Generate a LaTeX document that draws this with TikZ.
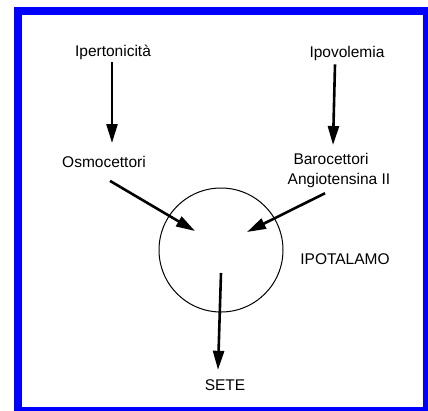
\documentclass[tikz,border=0pt]{standalone}
\usepackage{fontspec}
\setmainfont{Liberation Sans}
\usetikzlibrary{arrows.meta,positioning}
\definecolor{frameblue}{RGB}{0,0,255}

\begin{document}
\begin{tikzpicture}[x = 1pt, y = -1pt,
    every node/.style = {font = \fontsize{15.5}{18}\selectfont, inner sep = 0pt},
    arr/.style = {line width = 2.6pt, -{Triangle[length = 19pt, width = 11pt]}},
  ]
  \useasboundingbox (0,0) rectangle (428,410);
  \draw [frameblue, line width = 8pt] (18,11) rectangle (427,411);
  % stimoli e recettori
  \node (ipert) at (113,52) {Ipertonicit\`a};
  \node (ipovol) at (347,53) {Ipovolemia};
  \node (osmo) at (104,162) {Osmocettori};
  \node (baro) at (331,159) {Barocettori};
  \node (angio) [below = 8pt of baro, xshift = 8pt] {Angiotensina II};
  % ipotalamo
  \node (hyp) [circle, draw, line width = 1pt, minimum size = 124pt] at (221,250) {};
  \node (ipot) at (345,259) {IPOTALAMO};
  \node (sete) at (225,385) {SETE};
  \coordinate (hypl) at (195,231);
  \coordinate (hypr) at (247,232);
  \coordinate (hypc) at (221,273);
  % frecce
  \draw [arr] ([xshift = -1pt, yshift = -2.5pt]ipert.south) -- (112,143);
  \draw [arr] ([xshift = -12pt, yshift = -4pt]ipovol.south) -- (333,145);
  \draw [arr] ([xshift = 6pt, yshift = -13pt]osmo.south) -- (hypl);
  \draw [arr] ([xshift = -14pt, yshift = -5.5pt]angio.south) -- (hypr);
  \draw [arr] (hypc) -- ([xshift = -7pt, yshift = 9.5pt]sete.north);
\end{tikzpicture}
\end{document}
